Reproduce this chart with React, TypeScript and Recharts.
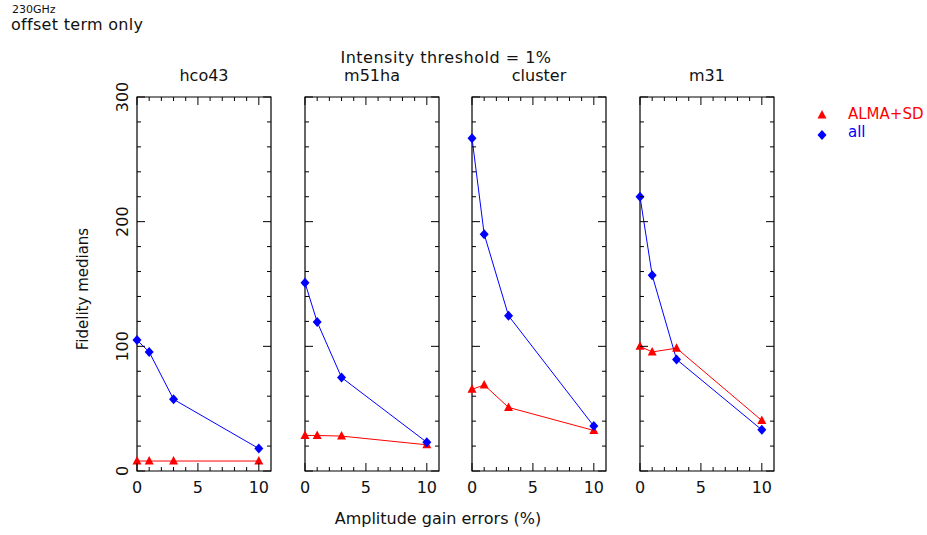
import { LineChart, Line, XAxis, YAxis, ReferenceArea } from "recharts";

const errors = [0, 1, 3, 10];
const panelNames = ["hco43", "m51ha", "cluster", "m31"];
const almaSd = [
  [8, 8, 8, 8],
  [28.5, 28.5, 28, 21],
  [65.5, 69, 51, 32.5],
  [100, 95.5, 98.5, 40.5],
];
const allMedians = [
  [105, 95.5, 57.5, 18],
  [151, 119.5, 75, 23],
  [267, 190, 124.5, 36],
  [220, 157, 89.5, 33],
];
const xTicks = [0, 1, 2, 3, 4, 5, 6, 7, 8, 9, 10];
const xLabels = [0, 5, 10];
const yTicks = [0, 20, 40, 60, 80, 100, 120, 140, 160, 180, 200, 220, 240, 260, 280, 300];
const yLabels = [0, 100, 200, 300];

const FONT = "'DejaVu Sans', sans-serif";
const TOP = 97;
const PLOT_H = 374;
const PLOT_W = 134;
const ML = 30;
const MR = 10;
const H = 535;
const BOTTOM = TOP + PLOT_H;
const panelLefts = [137, 305, 472, 640];

function Triangle(p: any) {
  const { cx, cy, index } = p;
  return (
    <polygon
      key={"t" + index}
      points={`${cx},${cy - 5} ${cx - 4.5},${cy + 3.5} ${cx + 4.5},${cy + 3.5}`}
      fill="#ff0000"
    />
  );
}

function Diamond(p: any) {
  const { cx, cy, index } = p;
  return (
    <polygon
      key={"d" + index}
      points={`${cx},${cy - 5} ${cx + 4.5},${cy} ${cx},${cy + 5} ${cx - 4.5},${cy}`}
      fill="#0000ff"
    />
  );
}

function XTick(p: any) {
  const { x, payload } = p;
  const major = xLabels.includes(payload.value);
  const len = major ? 8 : 4;
  return (
    <g>
      <line x1={x} x2={x} y1={BOTTOM} y2={BOTTOM - len} stroke="#000" />
      <line x1={x} x2={x} y1={TOP} y2={TOP + len} stroke="#000" />
      {major && (
        <text x={x} y={BOTTOM + 22} textAnchor="middle" fontSize={16} fontFamily={FONT} fill="#111">
          {payload.value}
        </text>
      )}
    </g>
  );
}

function makeYTick(showLabels: boolean) {
  return function YTick(p: any) {
    const { y, payload } = p;
    const major = yLabels.includes(payload.value);
    const len = major ? 8 : 4;
    return (
      <g key={"y" + payload.value}>
        <line x1={ML} x2={ML + len} y1={y} y2={y} stroke="#000" />
        <line x1={ML + PLOT_W} x2={ML + PLOT_W - len} y1={y} y2={y} stroke="#000" />
        {showLabels && major && (
          <text
            x={ML - 9}
            y={y}
            transform={`rotate(-90 ${ML - 9} ${y})`}
            textAnchor="middle"
            fontSize={16}
            fontFamily={FONT}
            fill="#111"
          >
            {payload.value}
          </text>
        )}
      </g>
    );
  };
}

function Panel({ idx }: { idx: number }) {
  const data = errors.map((e, i) => ({
    err: e,
    alma: almaSd[idx][i],
    all: allMedians[idx][i],
  }));
  return (
    <div style={{ position: "absolute", left: panelLefts[idx] - ML, top: 0 }}>
      <LineChart
        width={ML + PLOT_W + MR}
        height={H}
        data={data}
        margin={{ top: TOP, right: MR, bottom: H - BOTTOM - 1, left: ML - 1 }}
        style={{ overflow: "visible" }}
      >
        <XAxis
          dataKey="err"
          type="number"
          domain={[0, 11]}
          ticks={xTicks}
          interval={0}
          height={1}
          axisLine={false}
          tickLine={false}
          tick={<XTick />}
        />
        <YAxis
          type="number"
          domain={[0, 300]}
          ticks={yTicks}
          interval={0}
          width={1}
          axisLine={false}
          tickLine={false}
          tick={makeYTick(idx === 0)}
        />
        <ReferenceArea x1={0} x2={11} y1={0} y2={300} fill="none" stroke="#000" strokeWidth={1.2} />
        <Line
          dataKey="alma"
          stroke="#ff0000"
          strokeWidth={1}
          dot={Triangle}
          isAnimationActive={false}
        />
        <Line
          dataKey="all"
          stroke="#0000ff"
          strokeWidth={1}
          dot={Diamond}
          isAnimationActive={false}
        />
      </LineChart>
    </div>
  );
}

const textStyle = {
  position: "absolute" as const,
  fontFamily: FONT,
  color: "#111",
  whiteSpace: "nowrap" as const,
  lineHeight: 1,
};

export default function App() {
  return (
    <div style={{ position: "absolute", left: 0, top: 0, width: 927, height: H, background: "#fff", overflow: "hidden" }}>
      <div style={{ ...textStyle, left: 12, top: 4, fontSize: 11 }}>230GHz</div>
      <div style={{ ...textStyle, left: 11, top: 17, fontSize: 16, letterSpacing: 0.3 }}>offset term only</div>
      <div
        style={{
          ...textStyle,
          left: 446,
          top: 50,
          fontSize: 16,
          letterSpacing: 0.5,
          transform: "translateX(-50%)",
        }}
      >
        Intensity threshold = 1%
      </div>
      {panelNames.map((n, i) => (
        <div
          key={n}
          style={{
            ...textStyle,
            left: panelLefts[i] + PLOT_W / 2,
            top: 68,
            fontSize: 16,
            transform: "translateX(-50%)",
          }}
        >
          {n}
        </div>
      ))}
      <div
        style={{
          ...textStyle,
          left: 83,
          top: 289,
          fontSize: 15,
          transform: "translate(-50%, -50%) rotate(-90deg)",
        }}
      >
        Fidelity medians
      </div>
      <div style={{ ...textStyle, left: 438, top: 511, fontSize: 16, transform: "translateX(-50%)" }}>
        Amplitude gain errors (%)
      </div>
      {panelNames.map((n, i) => (
        <Panel key={n} idx={i} />
      ))}
      <svg style={{ position: "absolute", left: 0, top: 0 }} width={927} height={H} pointerEvents="none">
        <Triangle cx={822} cy={115} index={0} />
        <Diamond cx={822} cy={135} index={0} />
        <text x={848} y={119} fontSize={15} fontFamily={FONT} fill="#ff0000">
          ALMA+SD
        </text>
        <text x={848} y={137} fontSize={15} fontFamily={FONT} fill="#0000ff">
          all
        </text>
      </svg>
    </div>
  );
}
